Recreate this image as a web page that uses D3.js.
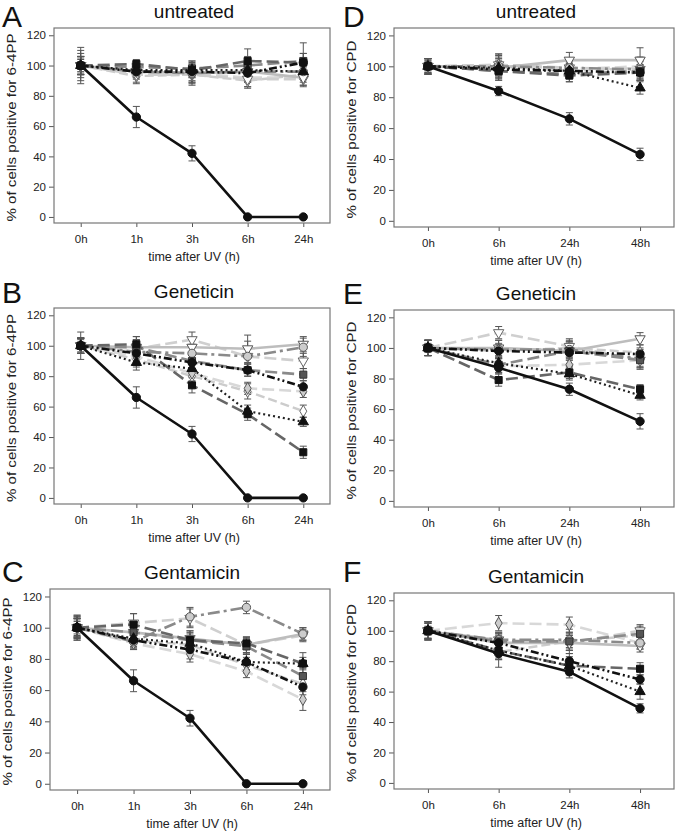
<!DOCTYPE html>
<html><head><meta charset="utf-8">
<script src="https://cdn.jsdelivr.net/npm/d3@7"></script>
<style>
html,body{margin:0;padding:0;background:#fff;}
svg{display:block;font-family:"Liberation Sans",Arial,sans-serif;}
</style></head>
<body><svg id="chart" width="680" height="836"></svg>
<script>
// ---------- DATA ----------
const times64 = ["0h","1h","3h","6h","24h"];
const timesCPD = ["0h","6h","24h","48h"];
const yTicks = [0,20,40,60,80,100,120];
const panelLetters = ["A","B","C","D","E","F"];
const panelTitles = ["untreated","Geneticin","Gentamicin","untreated","Geneticin","Gentamicin"];
const yLabels = ["% of cells positive for 6-4PP","% of cells positive for 6-4PP","% of cells positive for 6-4PP",
                 "% of cells positive for CPD","% of cells positive for CPD","% of cells positive for CPD"];
const xLabel = "time after UV (h)";

// series order: s1..s10
const valsA = [
  [100,66,42,0,0],[100,97,97,97,96],[100,101,97,103,102],[100,96,96,95,102],[100,99,98,100,103],
  [100,96,95,96,92],[100,94,94,91,91],[100,96,95,96,96],[100,95,95,92,92],[100,93,94,90,94]];
const errA = [
  [4,7,5,0,0],[6,4,5,5,5],[5,3,4,8,6],[8,4,4,6,6],[6,4,5,6,12],
  [6,4,6,7,5],[10,5,5,5,5],[12,4,8,6,5],[6,4,5,6,5],[6,5,6,5,5]];
const valsB = [
  [100,66,42,0,0],[100,89,85,57,50],[100,101,74,55,30],[100,95,89,84,73],[100,99,90,84,81],
  [100,99,99,98,101],[100,98,104,93,90],[100,96,95,93,99],[100,93,82,72,70],[100,91,80,70,57]];
const errB = [
  [4,7,5,0,0],[5,5,5,4,3],[5,5,5,4,4],[5,5,5,4,4],[9,7,5,4,4],
  [5,5,5,9,5],[5,6,5,10,5],[5,6,6,5,6],[5,5,5,4,4],[5,5,5,5,4]];
const valsC = [
  [100,66,42,0,0],[100,93,90,78,77],[100,102,92,90,77],[100,92,86,78,62],[100,97,92,88,69],
  [100,97,93,89,96],[100,103,106,89,95],[100,91,107,113,96],[100,90,83,72,54],[100,92,89,76,64]];
const errC = [
  [4,7,5,0,0],[5,5,6,5,4],[8,7,5,4,7],[6,5,6,5,5],[7,5,6,5,5],
  [6,5,5,5,4],[7,6,6,5,4],[8,5,6,4,4],[6,4,5,4,7],[6,5,5,5,5]];
const valsD = [
  [100,84,66,43],[100,99,97,86],[100,97,94,96],[100,98,97,96],[100,97,95,97],
  [100,99,104,104],[100,101,99,98],[100,100,99,98],[100,101,98,100],[100,100,97,99]];
const errD = [
  [3,3,4,4],[4,5,5,4],[5,6,4,5],[4,5,4,5],[5,6,5,6],
  [5,6,5,8],[5,7,5,6],[5,8,5,7],[5,6,5,6],[5,6,5,6]];
const valsE = [
  [100,87,73,52],[100,90,83,69],[100,79,84,73],[100,98,97,96],[100,89,98,92],
  [100,100,98,106],[100,110,101,92],[100,99,99,93],[100,88,89,92],[100,98,100,97]];
const errE = [
  [3,3,4,5],[5,4,4,3],[5,4,4,3],[5,4,5,4],[5,5,6,6],
  [5,5,5,4],[5,4,5,4],[5,6,5,6],[5,5,5,5],[5,5,5,5]];
const valsF = [
  [100,85,73,49],[100,87,77,60],[100,87,77,75],[100,92,80,68],[100,93,93,98],
  [100,92,92,90],[100,94,92,100],[100,94,94,92],[100,105,104,92],[100,86,93,97]];
const errF = [
  [3,4,4,3],[5,5,5,5],[6,6,6,4],[5,6,5,3],[6,5,5,5],
  [5,5,5,4],[6,5,5,4],[6,5,5,4],[5,5,5,4],[6,10,8,4]];

// ---------- STYLES / LAYOUT ----------
const styles = [
  {c:"#111", dash:null, w:2.6, m:"circle", fill:"#111", ms:"#111"},
  {c:"#222", dash:"2,3", w:2.2, m:"triangle", fill:"#111", ms:"#111"},
  {c:"#666", dash:"12,5", w:2.6, m:"square", fill:"#111", ms:"#111"},
  {c:"#111", dash:"8,3,2,3,2,3", w:2.6, m:"circle", fill:"#111", ms:"#111"},
  {c:"#8a8a8a", dash:"12,5", w:2.6, m:"square", fill:"#555", ms:"#333"},
  {c:"#bdbdbd", dash:null, w:2.6, m:"triangleDown", fill:"#fff", ms:"#555"},
  {c:"#cfcfcf", dash:"12,5", w:2.6, m:"triangleDown", fill:"#fff", ms:"#666"},
  {c:"#8a8a8a", dash:"12,4,3,4", w:2.6, m:"circle", fill:"#ccc", ms:"#555"},
  {c:"#d8d8d8", dash:"12,5", w:2.6, m:"diamond", fill:"#ccc", ms:"#555"},
  {c:"#cccccc", dash:"9,4", w:2.4, m:"diamond", fill:"#fff", ms:"#666"}
];
const drawOrder = [9,8,6,5,7,4,2,1,3,0];

const panels = [
  {vals:valsA, err:errA, times:times64, x0:54, x1:330, y0:28, y1:223, lx:2, ly:27},
  {vals:valsB, err:errB, times:times64, x0:54, x1:330, y0:308, y1:504, lx:2, ly:303},
  {vals:valsC, err:errC, times:times64, x0:50, x1:330, y0:589, y1:790, lx:2, ly:582},
  {vals:valsD, err:errD, times:timesCPD, x0:394, x1:674, y0:28, y1:227, lx:343, ly:27},
  {vals:valsE, err:errE, times:timesCPD, x0:394, x1:674, y0:310, y1:507, lx:343, ly:304},
  {vals:valsF, err:errF, times:timesCPD, x0:394, x1:674, y0:593, y1:789, lx:343, ly:582}
];

const svg = d3.select("#chart");
svg.append("rect").attr("width",680).attr("height",836).attr("fill","#fff");

const symType = {circle:d3.symbolCircle, square:d3.symbolSquare, triangle:d3.symbolTriangle,
                 triangleDown:d3.symbolTriangle, diamond:d3.symbolDiamond};
const symSize = {circle:54, square:50, triangle:46, triangleDown:46, diamond:42};

panels.forEach((p,i)=>{
  const g = svg.append("g");
  const x = d3.scalePoint().domain(p.times).range([p.x0,p.x1]).padding(0.48);
  const y = d3.scaleLinear().domain([-4,124.8]).range([p.y1,p.y0]);

  // letter & title
  g.append("text").attr("x",p.lx).attr("y",p.ly).attr("font-size",30).attr("fill","#111")
    .text(panelLetters[i]);
  g.append("text").attr("x",(p.x0+p.x1)/2+2).attr("y",p.y0-10).attr("text-anchor","middle")
    .attr("font-size",19).attr("fill","#111").text(panelTitles[i]);

  // axes
  const ya = g.append("g").attr("transform",`translate(${p.x0},0)`)
    .call(d3.axisLeft(y).tickValues(yTicks).tickSize(5).tickPadding(3));
  const xa = g.append("g").attr("transform",`translate(0,${p.y1})`)
    .call(d3.axisBottom(x).tickSize(4).tickPadding(8));
  [ya,xa].forEach(a=>{
    a.select(".domain").remove();
    a.selectAll("line").attr("stroke","#555");
    a.selectAll("text").attr("font-size",11.5).attr("fill","#222")
      .attr("font-family","'Liberation Sans',Arial,sans-serif");
  });

  // frame
  g.append("rect").attr("x",p.x0).attr("y",p.y0).attr("width",p.x1-p.x0).attr("height",p.y1-p.y0)
    .attr("fill","none").attr("stroke","#777").attr("stroke-width",1.2);

  // axis titles
  g.append("text").attr("x",(p.x0+p.x1)/2+2).attr("y",p.y1+38).attr("text-anchor","middle")
    .attr("font-size",12.5).attr("fill","#222").text(xLabel);
  g.append("text").attr("transform",`translate(${p.x0-38},${(p.y0+p.y1)/2+2}) rotate(-90) scale(1.12,1)`)
    .attr("text-anchor","middle").attr("font-size",13.5).attr("fill","#222").text(yLabels[i]);

  const line = d3.line().x((d,j)=>x(p.times[j])).y(d=>y(d));

  // error bars
  drawOrder.forEach(s=>{
    const eg = g.append("g");
    p.vals[s].forEach((v,j)=>{
      const e = p.err[s][j];
      if(!e) return;
      const cx = x(p.times[j]);
      eg.append("line").attr("x1",cx).attr("x2",cx).attr("y1",y(v-e)).attr("y2",y(v+e))
        .attr("stroke","#555").attr("stroke-width",1);
      [v-e,v+e].forEach(t=>eg.append("line").attr("x1",cx-3.5).attr("x2",cx+3.5)
        .attr("y1",y(t)).attr("y2",y(t)).attr("stroke","#555").attr("stroke-width",1));
    });
  });

  // lines + markers
  drawOrder.forEach(s=>{
    const st = styles[s];
    g.append("path").datum(p.vals[s]).attr("d",line).attr("fill","none")
      .attr("stroke",st.c).attr("stroke-width",st.w)
      .attr("stroke-dasharray",st.dash).attr("stroke-linejoin","round");
    g.selectAll(null).data(p.vals[s]).enter().append("path")
      .attr("d",d3.symbol().type(symType[st.m]).size(symSize[st.m]))
      .attr("transform",(d,j)=>`translate(${x(p.times[j])},${y(d)})${st.m==="triangleDown"?" rotate(180)":""}`)
      .attr("fill",st.fill).attr("stroke",st.ms).attr("stroke-width",1);
  });
});
</script>
</body></html>
